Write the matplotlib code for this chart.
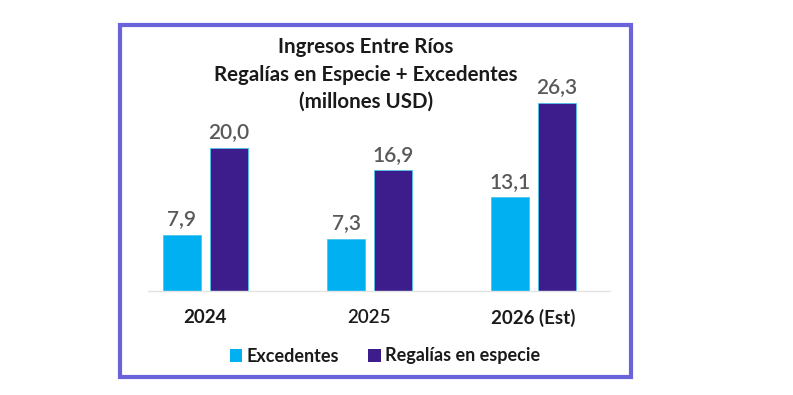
import matplotlib.pyplot as plt
from matplotlib.patches import Rectangle, Patch

plt.rcParams['font.family'] = ['Lato', 'DejaVu Sans']

# datos
years = ['2024', '2025', '2026 (Est)']
excedentes = [7.9, 7.3, 13.1]
regalias = [20.0, 16.9, 26.3]

col_exc = '#00b0f0'
col_reg = '#3c1d8b'

fig = plt.figure(figsize=(7.93, 3.95), dpi=100)
ax = fig.add_axes([148 / 793, 1 - 291 / 395, 462 / 793, 231 / 395])

x = range(len(years))
w = 0.232
off = 0.143
b1 = ax.bar([i - off for i in x], excedentes, w, color=col_exc,
            edgecolor='#4cc6ec', linewidth=0.6)
b2 = ax.bar([i + off for i in x], regalias, w, color=col_reg,
            edgecolor='#4cc6ec', linewidth=0.6)

# etiquetas de valor con coma decimal
for bars, vals in [(b1, excedentes), (b2, regalias)]:
    for r, v in zip(bars, vals):
        ax.annotate(f'{v:.1f}'.replace('.', ','),
                    (r.get_x() + r.get_width() / 2, r.get_height()),
                    xytext=(0, 4), textcoords='offset points',
                    ha='center', va='bottom', fontsize=15,
                    fontweight='semibold', color='#595959')

ax.set_xlim(-0.35, 2.466)
ax.set_ylim(0, 32.3)
ax.set_xticks(list(x))
ax.set_xticklabels(years, fontsize=13.5, color='#1a1a1a')
for lbl, wt in zip(ax.get_xticklabels(), ['bold', 'semibold', 'bold']):
    lbl.set_fontweight(wt)
ax.tick_params(axis='x', length=0, pad=13)
ax.set_yticks([])
for s in ['top', 'right', 'left']:
    ax.spines[s].set_visible(False)
ax.spines['bottom'].set_color('#e3e3e3')
ax.spines['bottom'].set_linewidth(1)

# titulo
tx = 366 / 793
for txt, yp in [('Ingresos Entre Ríos', 47),
                ('Regalías en Especie + Excedentes', 75),
                ('(millones USD)', 102)]:
    fig.text(tx, 1 - yp / 395, txt, ha='center', va='center',
             fontsize=14.8, fontweight='bold', color='#1a1a1a')

# leyenda
handles = [Patch(facecolor=col_exc, label='Excedentes'),
           Patch(facecolor=col_reg, label='Regalías en especie')]
fig.legend(handles=handles, loc='center', bbox_to_anchor=(385 / 793, 1 - 356 / 395),
           ncol=2, frameon=False, handlelength=0.7, handleheight=0.7,
           handletextpad=0.25, columnspacing=1.6,
           prop={'size': 13, 'weight': 'bold'}, labelcolor='#1a1a1a')

# marco
fig.patches.append(Rectangle((120 / 793, 18 / 395), 511.5 / 793, 352 / 395,
                             transform=fig.transFigure, fill=False,
                             edgecolor='#6b63dc', linewidth=3))

fig.savefig('out.png', dpi=100)
